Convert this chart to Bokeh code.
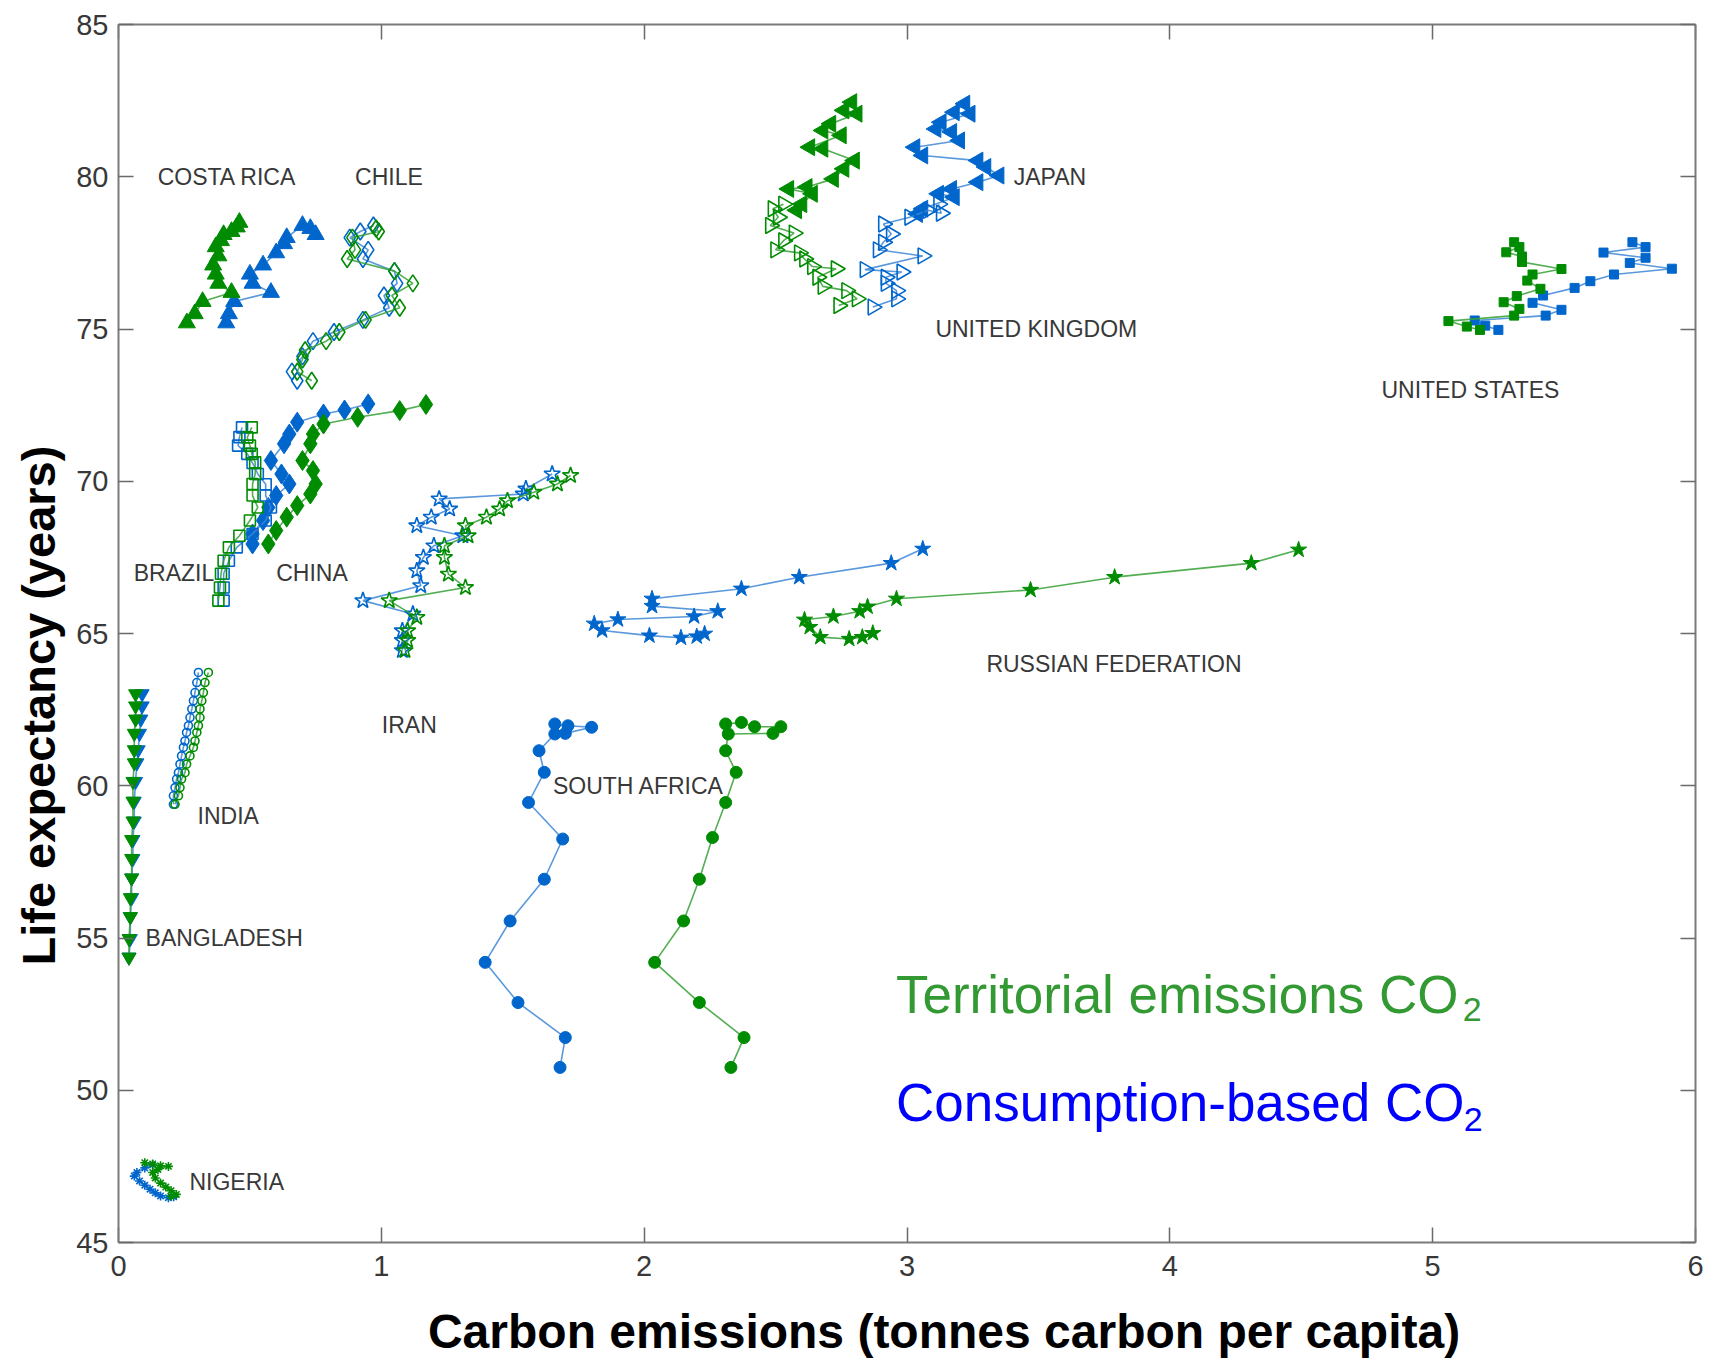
import math
from bokeh.plotting import figure
from bokeh.layouts import column
from bokeh.models import Range1d, LinearAxis, FixedTicker, Label, ColumnDataSource, Title, CustomJSTickFormatter
from bokeh.core.properties import value
from bokeh.embed import file_html
from bokeh.resources import INLINE

# ---------------------------------------------------------------------------
# Carbon emissions (tonnes C per capita) vs life expectancy (years), per country.
# "terr" = territorial emissions, "cons" = consumption-based emissions.
# ---------------------------------------------------------------------------

costa_rica_terr_x = [0.26, 0.29, 0.32, 0.43, 0.38, 0.37, 0.36, 0.38, 0.37, 0.39, 0.40, 0.43, 0.45, 0.46]
costa_rica_terr_y = [75.2, 75.5, 75.9, 76.2, 76.5, 76.8, 77.1, 77.4, 77.7, 77.9, 78.1, 78.2, 78.35, 78.5]
costa_rica_cons_x = [0.41, 0.42, 0.44, 0.58, 0.51, 0.50, 0.55, 0.60, 0.63, 0.64, 0.70, 0.73, 0.75]
costa_rica_cons_y = [75.2, 75.5, 75.9, 76.2, 76.5, 76.8, 77.1, 77.5, 77.8, 78.0, 78.4, 78.3, 78.1]

chile_terr_x = [0.735, 0.68, 0.70, 0.71, 0.79, 0.84, 0.94, 1.07, 1.04, 1.12, 1.05, 0.87, 0.90, 0.89, 0.99, 0.98]
chile_terr_y = [73.3, 73.6, 74.0, 74.3, 74.6, 74.9, 75.3, 75.7, 76.1, 76.5, 76.9, 77.3, 77.6, 78.0, 78.2, 78.3]
chile_cons_x = [0.68, 0.66, 0.70, 0.74, 0.82, 0.93, 1.03, 1.01, 1.06, 1.05, 0.93, 0.95, 0.88, 0.92, 0.97]
chile_cons_y = [73.3, 73.6, 74.1, 74.6, 74.9, 75.3, 75.7, 76.1, 76.5, 76.9, 77.3, 77.6, 78.0, 78.2, 78.4]

china_terr_x = [0.57, 0.60, 0.64, 0.68, 0.73, 0.75, 0.74, 0.70, 0.73, 0.74, 0.78, 0.91, 1.07, 1.17]
china_terr_y = [67.94, 68.38, 68.82, 69.2, 69.58, 69.91, 70.35, 70.68, 71.23, 71.55, 71.88, 72.1, 72.32, 72.52]
china_cons_x = [0.51, 0.51, 0.55, 0.57, 0.60, 0.65, 0.62, 0.58, 0.63, 0.65, 0.68, 0.78, 0.86, 0.95]
china_cons_y = [67.94, 68.27, 68.71, 69.14, 69.53, 69.91, 70.24, 70.68, 71.23, 71.55, 71.94, 72.21, 72.34, 72.54]

brazil_terr_x = [0.38, 0.386, 0.39, 0.40, 0.42, 0.46, 0.50, 0.53, 0.51, 0.51, 0.52, 0.52, 0.507, 0.50, 0.49, 0.507]
brazil_terr_y = [66.08, 66.51, 66.96, 67.39, 67.83, 68.21, 68.71, 69.14, 69.53, 69.91, 70.24, 70.62, 70.9, 71.17, 71.44, 71.77]
brazil_cons_x = [0.40, 0.40, 0.40, 0.42, 0.45, 0.51, 0.56, 0.58, 0.56, 0.56, 0.53, 0.51, 0.49, 0.455, 0.46, 0.47]
brazil_cons_y = [66.08, 66.51, 66.96, 67.39, 67.83, 68.27, 68.71, 69.14, 69.53, 69.9, 70.24, 70.6, 70.9, 71.17, 71.45, 71.77]

iran_terr_x = [1.09, 1.10, 1.10, 1.135, 1.03, 1.32, 1.255, 1.24, 1.24, 1.33, 1.32, 1.40, 1.45, 1.48, 1.58, 1.67, 1.72]
iran_terr_y = [64.44, 64.77, 65.09, 65.53, 66.08, 66.51, 66.95, 67.5, 67.88, 68.21, 68.54, 68.82, 69.09, 69.36, 69.64, 69.91, 70.19]
iran_cons_x = [1.08, 1.08, 1.08, 1.12, 0.93, 1.15, 1.135, 1.16, 1.20, 1.31, 1.135, 1.19, 1.26, 1.22, 1.54, 1.55, 1.65]
iran_cons_y = [64.44, 64.77, 65.09, 65.64, 66.08, 66.57, 67.06, 67.5, 67.88, 68.21, 68.54, 68.82, 69.09, 69.42, 69.58, 69.75, 70.24]

russia_terr_x = [4.49, 4.31, 3.79, 3.47, 2.96, 2.85, 2.82, 2.72, 2.61, 2.63, 2.67, 2.78, 2.83, 2.87]
russia_terr_y = [67.75, 67.31, 66.85, 66.43, 66.14, 65.88, 65.73, 65.56, 65.45, 65.21, 64.88, 64.82, 64.88, 65.01]
russia_cons_x = [3.06, 2.94, 2.59, 2.37, 2.03, 2.03, 2.28, 2.19, 1.90, 1.81, 1.84, 2.02, 2.14, 2.20, 2.23]
russia_cons_y = [67.78, 67.31, 66.85, 66.47, 66.14, 65.9, 65.73, 65.56, 65.46, 65.32, 65.10, 64.93, 64.86, 64.90, 64.99]

india_terr_x = [0.342, 0.329, 0.323, 0.317, 0.310, 0.310, 0.304, 0.298, 0.291, 0.285, 0.272, 0.259, 0.253, 0.240, 0.234, 0.228, 0.215]
india_terr_y = [63.72, 63.39, 63.06, 62.79, 62.52, 62.24, 61.97, 61.75, 61.47, 61.26, 60.98, 60.71, 60.43, 60.22, 59.94, 59.67, 59.39]
india_cons_x = [0.304, 0.298, 0.291, 0.285, 0.279, 0.272, 0.266, 0.259, 0.253, 0.247, 0.240, 0.234, 0.228, 0.221, 0.215, 0.209, 0.209]
india_cons_y = [63.72, 63.39, 63.06, 62.79, 62.52, 62.24, 61.97, 61.75, 61.47, 61.26, 60.98, 60.71, 60.43, 60.22, 59.94, 59.67, 59.39]

bangladesh_terr_x = [0.065, 0.065, 0.065, 0.06, 0.06, 0.06, 0.055, 0.055, 0.055, 0.05, 0.05, 0.05, 0.045, 0.045, 0.04, 0.04]
bangladesh_terr_y = [63.02, 62.62, 62.19, 61.72, 61.18, 60.75, 60.14, 59.49, 58.84, 58.23, 57.61, 56.97, 56.32, 55.70, 54.98, 54.37]
bangladesh_cons_x = [0.09, 0.09, 0.085, 0.08, 0.075, 0.07, 0.065, 0.06, 0.06, 0.055, 0.055, 0.05, 0.05, 0.045, 0.045, 0.04]
bangladesh_cons_y = [63.02, 62.62, 62.19, 61.72, 61.18, 60.75, 60.14, 59.49, 58.84, 58.23, 57.61, 56.97, 56.32, 55.70, 54.98, 54.37]

nigeria_terr_x = [0.10, 0.13, 0.16, 0.19, 0.15, 0.13, 0.14, 0.16, 0.18, 0.20, 0.22, 0.20]
nigeria_terr_y = [47.62, 47.58, 47.52, 47.5, 47.4, 47.3, 47.12, 46.95, 46.82, 46.7, 46.58, 46.52]
nigeria_cons_x = [0.13, 0.10, 0.07, 0.06, 0.08, 0.10, 0.12, 0.14, 0.16, 0.19, 0.21]
nigeria_cons_y = [47.55, 47.45, 47.3, 47.18, 47.02, 46.88, 46.75, 46.63, 46.53, 46.47, 46.5]

south_africa_terr_x = [2.31, 2.37, 2.42, 2.52, 2.49, 2.32, 2.31, 2.35, 2.31, 2.26, 2.21, 2.15, 2.04, 2.21, 2.38, 2.33]
south_africa_terr_y = [62.03, 62.08, 61.94, 61.94, 61.72, 61.70, 61.15, 60.44, 59.45, 58.3, 56.93, 55.56, 54.2, 52.88, 51.73, 50.75]
south_africa_cons_x = [1.66, 1.71, 1.80, 1.70, 1.66, 1.60, 1.62, 1.56, 1.69, 1.62, 1.49, 1.395, 1.52, 1.70, 1.68]
south_africa_cons_y = [62.03, 61.97, 61.92, 61.72, 61.70, 61.15, 60.44, 59.45, 58.25, 56.93, 55.56, 54.2, 52.88, 51.73, 50.75]

japan_terr_x = [2.58, 2.60, 2.64, 2.55, 2.62, 2.72, 2.76, 2.80, 2.68, 2.63, 2.75, 2.68, 2.71, 2.81, 2.76, 2.79]
japan_terr_y = [78.9, 79.1, 79.44, 79.6, 79.66, 79.93, 80.26, 80.53, 80.92, 80.97, 81.36, 81.52, 81.74, 82.07, 82.18, 82.45]
japan_cons_x = [3.04, 3.06, 3.18, 3.12, 3.17, 3.27, 3.35, 3.30, 3.27, 3.06, 3.03, 3.20, 3.17, 3.11, 3.13, 3.24, 3.18, 3.22]
japan_cons_y = [78.78, 78.95, 79.33, 79.44, 79.6, 79.82, 80.04, 80.32, 80.53, 80.7, 80.97, 81.19, 81.47, 81.57, 81.79, 82.07, 82.12, 82.4]

uk_terr_x = [2.74, 2.81, 2.77, 2.68, 2.66, 2.73, 2.64, 2.61, 2.59, 2.50, 2.53, 2.57, 2.48, 2.51, 2.49, 2.53]
uk_terr_y = [75.77, 75.99, 76.26, 76.4, 76.7, 76.98, 77.05, 77.3, 77.5, 77.6, 77.9, 78.15, 78.4, 78.67, 78.95, 79.1]
uk_cons_x = [2.87, 2.96, 2.96, 2.92, 2.92, 2.98, 2.84, 3.06, 2.89, 2.91, 2.94, 2.91, 3.01, 3.08, 3.13, 3.12]
uk_cons_y = [75.72, 75.99, 76.26, 76.5, 76.7, 76.87, 76.95, 77.4, 77.6, 77.85, 78.12, 78.45, 78.67, 78.9, 78.8, 79.1]

usa_terr_x = [5.18, 5.13, 5.06, 5.31, 5.33, 5.27, 5.32, 5.41, 5.36, 5.38, 5.49, 5.34, 5.34, 5.28, 5.33, 5.31]
usa_terr_y = [74.97, 75.08, 75.26, 75.44, 75.66, 75.88, 76.08, 76.32, 76.59, 76.79, 76.97, 77.2, 77.38, 77.52, 77.69, 77.85]
usa_cons_x = [5.25, 5.20, 5.16, 5.43, 5.49, 5.38, 5.42, 5.54, 5.60, 5.69, 5.91, 5.75, 5.81, 5.65, 5.81, 5.76]
usa_cons_y = [74.97, 75.11, 75.28, 75.44, 75.63, 75.86, 76.10, 76.35, 76.57, 76.79, 76.98, 77.17, 77.34, 77.51, 77.69, 77.85]

country_names = ["COSTA RICA", "CHILE", "JAPAN", "UNITED KINGDOM", "UNITED STATES", "BRAZIL",
                 "CHINA", "RUSSIAN FEDERATION", "IRAN", "SOUTH AFRICA", "INDIA", "BANGLADESH", "NIGERIA"]

year_heading = "2005"
x_ticks = [0, 1, 2, 3, 4, 5, 6]
y_ticks = [45, 50, 55, 60, 65, 70, 75, 80, 85]

# ---------------------------------------------------------------------------
# Styling
# ---------------------------------------------------------------------------
GREEN = "#008c00"
GREEN_LINE = "#35a035"
BLUE = "#0066cc"
BLUE_LINE = "#3d86d6"
AXIS_GREY = "#7a7a7a"
TEXT_GREY = "#383838"
FONT = "Liberation Sans"

W = 1720
BORDER_L, BORDER_R = 118, 25
HEADER_H = 5          # strip above the chart holding the year heading
MAIN_H = 1292         # chart canvas
FOOTER_H = 1362 - HEADER_H - MAIN_H   # strip holding the x-axis title

# marker, size, filled, rotation
series = [
    (costa_rica_terr_x, costa_rica_terr_y, costa_rica_cons_x, costa_rica_cons_y, "triangle", 17, True, 0.0),
    (chile_terr_x, chile_terr_y, chile_cons_x, chile_cons_y, "diamond", 17, False, 0.0),
    (china_terr_x, china_terr_y, china_cons_x, china_cons_y, "diamond", 20, True, 0.0),
    (brazil_terr_x, brazil_terr_y, brazil_cons_x, brazil_cons_y, "square", 11, False, 0.0),
    (iran_terr_x, iran_terr_y, iran_cons_x, iran_cons_y, "star", 17, False, 0.0),
    (russia_terr_x, russia_terr_y, russia_cons_x, russia_cons_y, "star", 17, True, 0.0),
    (india_terr_x, india_terr_y, india_cons_x, india_cons_y, "circle", 8, False, 0.0),
    (bangladesh_terr_x, bangladesh_terr_y, bangladesh_cons_x, bangladesh_cons_y, "inverted_triangle", 14, True, 0.0),
    (nigeria_terr_x, nigeria_terr_y, nigeria_cons_x, nigeria_cons_y, "asterisk", 9, False, 0.0),
    (south_africa_terr_x, south_africa_terr_y, south_africa_cons_x, south_africa_cons_y, "circle", 12, True, 0.0),
    (japan_terr_x, japan_terr_y, japan_cons_x, japan_cons_y, "triangle", 17, True, math.pi / 2),
    (uk_terr_x, uk_terr_y, uk_cons_x, uk_cons_y, "triangle", 16, False, -math.pi / 2),
    (usa_terr_x, usa_terr_y, usa_cons_x, usa_cons_y, "square", 9, True, 0.0),
]

# label anchor (left edge, vertical middle) in data units
label_x = [0.149, 0.90, 3.406, 3.108, 4.805, 0.058, 0.60, 3.302, 1.002, 1.653, 0.301, 0.103, 0.27]
label_y = [80.0, 80.0, 80.0, 75.0, 73.0, 67.0, 67.0, 64.0, 62.0, 60.0, 59.0, 55.0, 47.0]

x_range = Range1d(0, 6)


def strip(height):
    """A bare figure sharing the chart's x scale, used for text above/below it."""
    f = figure(width=W, height=height, x_range=x_range, y_range=Range1d(0, 1),
               output_backend="svg", toolbar_location=None,
               x_axis_location=None, y_axis_location=None)
    f.min_border_left = BORDER_L
    f.min_border_right = BORDER_R
    f.min_border_top = 0
    f.min_border_bottom = 0
    f.outline_line_color = None
    f.xgrid.visible = False
    f.ygrid.visible = False
    return f


# the year heading sits mostly above the page edge; only its foot shows
header = strip(HEADER_H)
header.text(x=[3], y=[1 + 5.4 / HEADER_H], text=[year_heading], text_align="center",
            text_baseline="middle", text_font=value(FONT), text_font_size="29px",
            text_color=TEXT_GREY)

p = figure(width=W, height=MAIN_H, x_range=x_range, y_range=Range1d(45, 85),
           output_backend="svg", toolbar_location=None)
p.min_border_left = BORDER_L
p.min_border_right = BORDER_R
p.min_border_top = 19
p.min_border_bottom = MAIN_H - 19 - 1218
p.outline_line_color = None
p.background_fill_color = "white"
p.border_fill_color = "white"
p.xgrid.visible = False
p.ygrid.visible = False

blank = CustomJSTickFormatter(code="return ''")


def style_axis(ax, ticks, show_labels, standoff):
    ax.ticker = FixedTicker(ticks=ticks)
    ax.major_tick_in = 15
    ax.major_tick_out = 0
    ax.minor_tick_in = 0
    ax.minor_tick_out = 0
    ax.axis_line_color = AXIS_GREY
    ax.axis_line_width = 2
    ax.major_tick_line_color = "#6a6a6a"
    ax.major_tick_line_width = 1.5
    ax.major_label_text_font = FONT
    ax.major_label_text_color = TEXT_GREY
    ax.major_label_standoff = standoff
    if show_labels:
        ax.major_label_text_font_size = "29px"
    else:
        ax.formatter = blank
        ax.major_label_text_font_size = "8px"


style_axis(p.xaxis[0], x_ticks, True, 13)
style_axis(p.yaxis[0], y_ticks, True, 10)
top_axis = LinearAxis()
style_axis(top_axis, x_ticks, False, 0)
right_axis = LinearAxis()
style_axis(right_axis, y_ticks, False, 0)
p.add_layout(top_axis, "above")
p.add_layout(right_axis, "right")

# consumption-based series first, territorial drawn on top
for idx, (col, lcol) in ((2, (BLUE, BLUE_LINE)), (0, (GREEN, GREEN_LINE))):
    for s in series:
        xs, ys = s[idx], s[idx + 1]
        marker, size, filled, angle = s[4], s[5], s[6], s[7]
        p.line(xs, ys, line_color=lcol, line_width=1.6, line_alpha=0.85)
        if filled:
            p.scatter(xs, ys, marker=marker, size=size, angle=angle,
                      fill_color=col, line_color=col, line_width=1)
        else:
            p.scatter(xs, ys, marker=marker, size=size, angle=angle,
                      fill_color=None, line_color=col, line_width=1.6)

lbl_src = ColumnDataSource(dict(x=label_x, y=label_y, text=country_names))
p.text(x="x", y="y", text="text", source=lbl_src, text_font=value(FONT),
       text_font_size="23px", text_align="left", text_baseline="middle", text_color=TEXT_GREY)

# y-axis title
p.add_layout(Title(text="Life expectancy (years)", align="left", offset=277,
                   standoff=18, text_font=FONT, text_font_size="47px", text_font_style="bold",
                   text_color="black"), "left")

# key text
LEG_GREEN = "#339933"
LEG_BLUE = "#0000ff"
p.add_layout(Label(x=2.958, y=53.15, text="Territorial emissions CO", text_align="left",
                   text_baseline="alphabetic", text_font=FONT, text_font_size="53px",
                   text_color=LEG_GREEN))
p.add_layout(Label(x=5.114, y=52.65, text="2", text_align="left",
                   text_baseline="alphabetic", text_font=FONT, text_font_size="34px",
                   text_color=LEG_GREEN))
p.add_layout(Label(x=2.958, y=49.6, text="Consumption-based CO", text_align="left",
                   text_baseline="alphabetic", text_font=FONT, text_font_size="53px",
                   text_color=LEG_BLUE))
p.add_layout(Label(x=5.118, y=49.05, text="2", text_align="left",
                   text_baseline="alphabetic", text_font=FONT, text_font_size="34px",
                   text_color=LEG_BLUE))

# x-axis title, in its own strip under the chart
footer = strip(FOOTER_H)
footer.text(x=[1.1774], y=[1 - 34 / FOOTER_H], text=["Carbon emissions (tonnes carbon per capita)"],
            text_align="left", text_baseline="middle", text_font=value(FONT),
            text_font_size="48px", text_font_style="bold", text_color="black")

layout = column(header, p, footer, spacing=0)
open("out.html", "w").write(file_html(layout, INLINE))
